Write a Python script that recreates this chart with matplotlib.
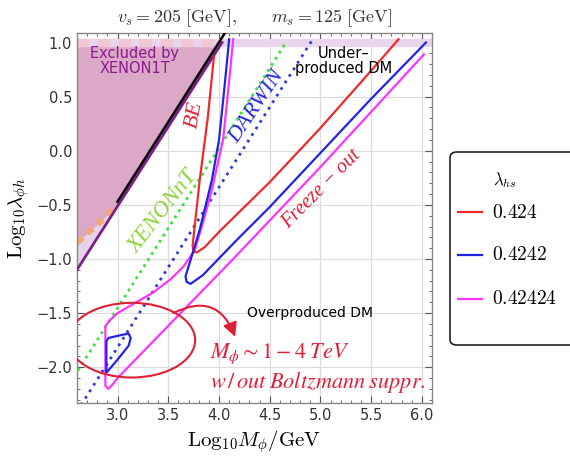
import matplotlib
matplotlib.use("Agg")
import matplotlib.pyplot as plt
from matplotlib.patches import Ellipse, FancyArrowPatch, FancyBboxPatch
from matplotlib.lines import Line2D
from matplotlib.ticker import MultipleLocator

plt.rcParams['mathtext.fontset'] = 'cm'

# ---------------- data ----------------
lam_labels = ["0.424", "0.4242", "0.42424"]

red_x = [3.95, 3.89, 3.81, 3.76, 3.74, 3.75, 3.78, 3.86, 4.00, 4.50, 5.00, 5.50, 5.77]
red_y = [0.87, 0.31, -0.27, -0.70, -0.88, -0.93, -0.94, -0.89, -0.75, -0.29, 0.21, 0.74, 1.03]

blue_x = [4.10, 4.05, 4.00, 3.93, 3.81, 3.72, 3.67, 3.68, 3.72, 3.84, 4.18, 4.50, 5.00, 5.50, 6.04]
blue_y = [1.03, 0.55, 0.10, -0.27, -0.73, -1.01, -1.16, -1.21, -1.23, -1.15, -0.82, -0.52, -0.02, 0.48, 1.00]

blue_loop_x = [2.89, 2.89, 2.91, 3.05, 3.11, 3.13, 3.11, 3.00, 2.90, 2.89]
blue_loop_y = [-2.04, -1.76, -1.73, -1.70, -1.69, -1.73, -1.80, -1.93, -2.04, -2.04]

mag_x = [4.14, 4.09, 4.04, 3.93, 3.84, 3.76, 3.65, 3.52, 3.35, 3.00, 2.92, 2.88, 2.88, 2.88, 2.91, 2.95, 3.00, 4.14, 5.00, 6.02]
mag_y = [1.03, 0.55, 0.10, -0.36, -0.67, -0.92, -1.07, -1.19, -1.31, -1.50, -1.57, -1.62, -1.90, -2.17, -2.20, -2.16, -2.10, -1.00, -0.15, 0.89]

xenonnt_x = [2.61, 4.66]
xenonnt_y = [-2.03, 1.00]

darwin_x = [2.64, 4.91]
darwin_y = [-2.35, 1.01]

x1t_x = [2.60, 4.03]
x1t_y = [-1.10, 1.00]

black_x = [3.00, 4.06]
black_y = [-0.47, 1.09]

orange_x = [2.60, 3.00]
orange_y = [-0.85, -0.51]

top_x = [2.60, 6.10]
top_y = [1.00, 1.00]

# ---------------- figure ----------------
W, H = 570, 468
fig = plt.figure(figsize=(W / 100, H / 100), dpi=100)
ax = fig.add_axes([0.135, 0.139, 0.623, 0.791])

ax.set_xlim(2.6, 6.1)
ax.set_ylim(-2.33, 1.09)

# exclusion region
ax.fill_between(x1t_x, x1t_y, [1.0, 1.0], color='#dba8c8', lw=0, zorder=1)
ax.fill_between(orange_x, [x1t_y[0], -0.51], orange_y, color='#e6d3ea', lw=0, zorder=1.5)
ax.plot(orange_x, orange_y, color='#f2a878', lw=4.5, ls=(0, (1.2, 1.0)), zorder=2,
        solid_capstyle='butt')
ax.plot(top_x, top_y, color='#ead6ec', lw=6, zorder=1.6, solid_capstyle='butt')
ax.plot([2.6, 4.05], top_y, color='#f3c6d6', lw=6, ls=(0, (1.5, 1.0)), zorder=1.7)
ax.plot(x1t_x, x1t_y, color='#7d1f86', lw=2.0, zorder=4)
ax.plot(black_x, black_y, color='black', lw=1.8, zorder=4)

# projected sensitivities
ax.plot(xenonnt_x, xenonnt_y, color='#3ee03e', lw=2.0, ls=(0, (1, 1.6)), zorder=3)
ax.plot(darwin_x, darwin_y, color='#2f3fd6', lw=2.0, ls=(0, (1, 1.8)), zorder=3)

# relic-density curves
c_red, c_blue, c_mag = '#ee2a2a', '#2323e6', '#ff33ff'
ax.plot(red_x, red_y, color=c_red, lw=1.6, zorder=5)
ax.plot(blue_x, blue_y, color=c_blue, lw=1.6, zorder=5)
ax.plot(blue_loop_x, blue_loop_y, color=c_blue, lw=1.6, zorder=5)
ax.plot(mag_x, mag_y, color=c_mag, lw=1.6, zorder=4.8)

# annotations
ax.text(3.17, 0.83, "Excluded by\nXENON1T", color='#8a1b8f', fontsize=10.5,
        ha='center', va='center', linespacing=1.0, zorder=6)
ax.text(3.76, 0.33, "BE", color='#e01e36', fontsize=16, rotation=80,
        family='Liberation Serif', style='italic', ha='center', va='center', zorder=6)
ax.text(4.37, 0.41, "DARWIN", color='#2828e0', fontsize=16, rotation=56,
        family='Liberation Serif', style='italic', ha='center', va='center', zorder=6)
ax.text(3.45, -0.56, "XENONnT", color='#8ed23c', fontsize=16.5, rotation=52,
        family='Liberation Serif', style='italic', ha='center', va='center', zorder=6)
ax.text(5.01, -0.36, "Freeze \u2212 out", color='#e01e36', fontsize=14.5, rotation=45,
        family='Liberation Serif', style='italic', ha='center', va='center', zorder=6)
ax.text(5.23, 0.83, "Under\u2013\nproduced DM", color='black', fontsize=10.5,
        ha='center', va='center', linespacing=1.0, zorder=6)
ax.text(4.90, -1.50, "Overproduced DM", color='black', fontsize=10,
        ha='center', va='center', zorder=6)
ax.text(4.60, -1.88, r"$M_\phi \sim 1 - 4\;TeV$", color='#e01e36', fontsize=16,
        ha='center', va='center', math_fontfamily='stix', zorder=6)
ax.text(4.97, -2.14, r"$w\,/\,out\;Boltzmann\;suppr.$", color='#e01e36', fontsize=16,
        ha='center', va='center', math_fontfamily='stix', zorder=6)

ax.add_patch(Ellipse((3.14, -1.75), 1.25, 0.69, fill=False, ec='#e01e36', lw=1.5, zorder=6))
ax.add_patch(FancyArrowPatch((3.55, -1.50), (4.16, -1.72),
                             connectionstyle="arc3,rad=-0.55",
                             arrowstyle="-|>,head_length=0.7,head_width=0.35",
                             mutation_scale=12, shrinkA=0, shrinkB=0,
                             color='#e01e36', lw=1.5, zorder=6))

# axes styling
ax.xaxis.set_major_locator(MultipleLocator(0.5))
ax.yaxis.set_major_locator(MultipleLocator(0.5))
ax.xaxis.set_minor_locator(MultipleLocator(0.1))
ax.yaxis.set_minor_locator(MultipleLocator(0.1))
ax.grid(True, which='major', color='#dcdcdc', lw=0.9, zorder=0)
ax.set_axisbelow(True)
ax.tick_params(which='both', direction='in', top=True, right=True, colors='#555555',
               labelcolor='#333333', labelsize=10.5)
ax.tick_params(which='major', length=5)
ax.tick_params(which='minor', length=2.5)
for s in ax.spines.values():
    s.set_color('#888888')
    s.set_linewidth(1.0)

ax.set_title(r"$v_s = 205\ [\mathrm{GeV}],\qquad m_s = 125\ [\mathrm{GeV}]$",
             fontsize=13, pad=8, color='#333333')
ax.set_xlabel(r"$\mathrm{Log}_{10}M_\phi/\mathrm{GeV}$", fontsize=15, labelpad=4)
ax.set_ylabel(r"$\mathrm{Log}_{10}\lambda_{\phi h}$", fontsize=15, labelpad=4)

# legend (drawn by hand so the box runs off the right edge as in the reference)
def fx(px):
    return px / W

def fy(py):
    return 1 - py / H

fig.patches.append(FancyBboxPatch((fx(450), fy(345)), fx(140), fy(152) - fy(345),
                                  boxstyle="round,pad=0,rounding_size=0.012",
                                  transform=fig.transFigure, fc='white',
                                  ec='#222222', lw=1.2, zorder=10))
fig.text(fx(505), fy(180), r"$\lambda_{hs}$", fontsize=12, ha='center', va='center',
         zorder=11)
for lab, col, py in zip(lam_labels, (c_red, c_blue, c_mag), (212, 255, 299)):
    fig.lines.append(Line2D([fx(458), fx(482)], [fy(py), fy(py)], color=col, lw=1.6,
                            transform=fig.transFigure, zorder=11))
    fig.text(fx(492), fy(py), r"$%s$" % lab, fontsize=14, ha='left', va='center',
             zorder=11)

fig.savefig("out.png", dpi=100)
